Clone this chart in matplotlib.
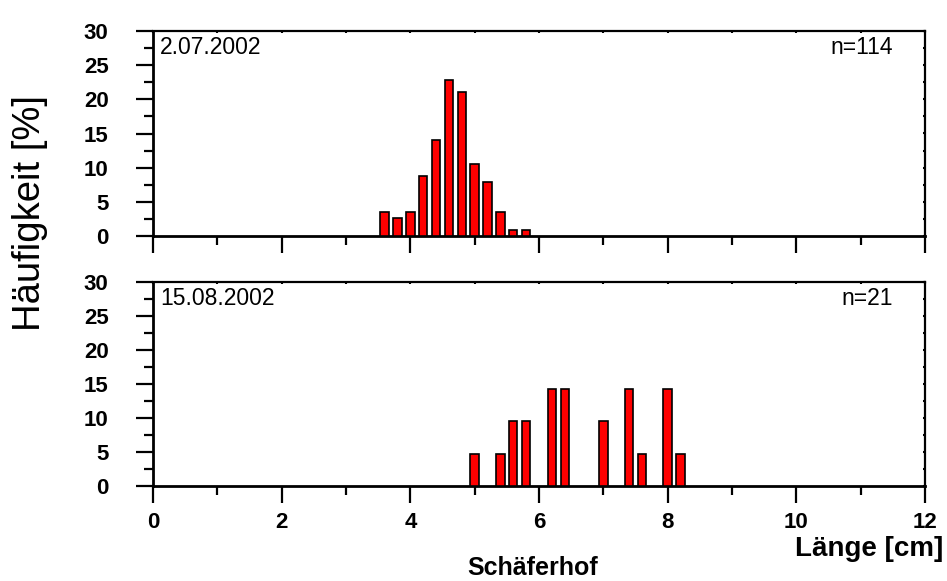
import matplotlib
matplotlib.use("Agg")
import matplotlib.pyplot as plt
from matplotlib.ticker import MultipleLocator

plt.rcParams['font.family'] = ['Liberation Sans', 'DejaVu Sans']

# Data
x_top = [3.6, 3.8, 4.0, 4.2, 4.4, 4.6, 4.8, 5.0, 5.2, 5.4, 5.6, 5.8]
y_top = [3.5, 2.6, 3.5, 8.8, 14.0, 22.8, 21.1, 10.5, 7.9, 3.5, 0.9, 0.9]
x_bot = [5.0, 5.4, 5.6, 5.8, 6.2, 6.4, 7.0, 7.4, 7.6, 8.0, 8.2]
y_bot = [4.76, 4.76, 9.52, 9.52, 14.29, 14.29, 9.52, 14.29, 4.76, 14.29, 4.76]
date_top = "2.07.2002"
date_bot = "15.08.2002"
n_top = "n=114"
n_bot = "n=21"
x_ticks = [0, 2, 4, 6, 8, 10, 12]
y_ticks = [0, 5, 10, 15, 20, 25, 30]

fig = plt.figure(figsize=(9.47, 5.81), dpi=100)
L, R = 153/947, 925/947
ax1 = fig.add_axes([L, 1-236/581, R-L, (236-31)/581])
ax2 = fig.add_axes([L, 1-486/581, R-L, (486-282)/581])

for ax, xs, ys, d, n in [(ax1, x_top, y_top, date_top, n_top), (ax2, x_bot, y_bot, date_bot, n_bot)]:
    ax.bar(xs, ys, width=0.13, color='#ff0000', edgecolor='black', linewidth=1.2, zorder=3)
    ax.set_xlim(0, 12)
    ax.set_ylim(0, 30)
    ax.set_xticks(x_ticks)
    ax.xaxis.set_minor_locator(MultipleLocator(1))
    ax.set_yticks(y_ticks)
    ax.yaxis.set_minor_locator(MultipleLocator(2.5))
    for s in ['left', 'bottom']:
        ax.spines[s].set_linewidth(2)
    for s in ['top', 'right']:
        ax.spines[s].set_visible(False)
    ax.tick_params(axis='both', which='major', direction='out', length=12, width=1.6,
                   labelsize=16, top=False, right=False)
    ax.tick_params(axis='both', which='minor', direction='out', length=6.5, width=1.6,
                   top=False, right=False)
    ax.tick_params(axis='y', which='major', pad=20)
    ax.tick_params(axis='x', which='major', pad=7)
    for lab in ax.get_yticklabels() + ax.get_xticklabels():
        lab.set_fontweight('bold')
    ax.text(0.009, 0.976, d, transform=ax.transAxes, ha='left', va='top', fontsize=16.5)
    ax.text(0.9585, 0.976, n, transform=ax.transAxes, ha='right', va='top', fontsize=16.5)

    sx = ax.secondary_xaxis('top')
    sx.set_xticks(x_ticks)
    sx.xaxis.set_minor_locator(MultipleLocator(1))
    sx.tick_params(which='both', direction='in', length=1.5, width=1.5, labeltop=False)
    sx.spines['top'].set_linewidth(1.6)
    sy = ax.secondary_yaxis('right')
    sy.set_yticks(y_ticks)
    sy.yaxis.set_minor_locator(MultipleLocator(2.5))
    sy.tick_params(which='both', direction='in', length=1.5, width=1.5, labelright=False)
    sy.spines['right'].set_linewidth(1.6)

ax1.tick_params(axis='x', labelbottom=False)

fig.text(0.032, 0.633, "Häufigkeit [%]", rotation=90, ha='center', va='center', fontsize=27.5)
fig.text(0.996, 1-556/581, "Länge [cm]", ha='right', va='baseline', fontsize=20, fontweight='bold')
fig.text(533/947, 1-575/581, "Schäferhof", ha='center', va='baseline', fontsize=18, fontweight='bold')

fig.savefig("out.png", dpi=100)
